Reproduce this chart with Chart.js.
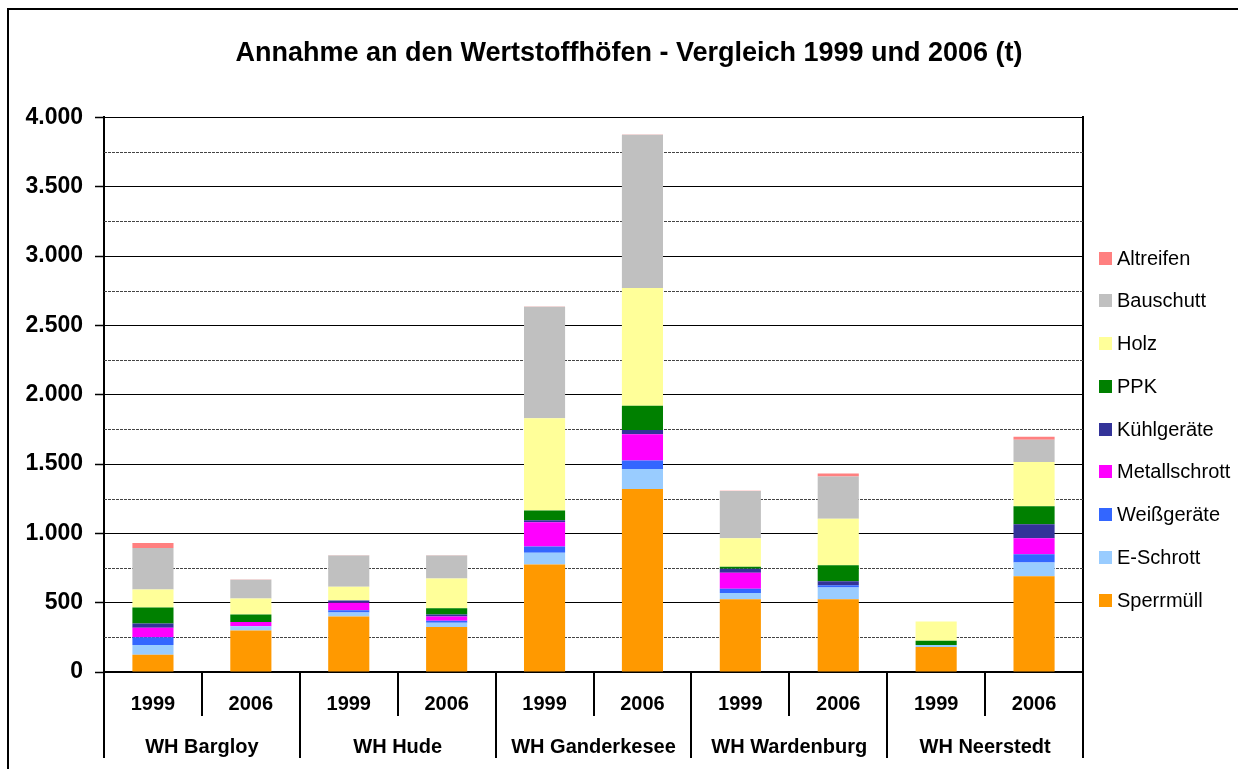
<!DOCTYPE html>
<html>
<head>
<meta charset="utf-8">
<script src="https://cdn.jsdelivr.net/npm/chart.js@4"></script>
<style>
  html, body { margin: 0; padding: 0; background: #fff; }
</style>
</head>
<body>
<canvas id="chart" width="1238" height="769"></canvas>
<script>
// Categories: one bar per year, grouped by Wertstoffhof
const years = ["1999", "2006", "1999", "2006", "1999", "2006", "1999", "2006", "1999", "2006"];
const sites = ["WH Bargloy", "WH Hude", "WH Ganderkesee", "WH Wardenburg", "WH Neerstedt"];

// Tonnages per material
const sperrmuell    = [125, 300, 400, 325, 775, 1320, 525, 525, 180, 690];
const eSchrott      = [70, 30, 30, 30, 85, 145, 45, 85, 15, 100];
const weissgeraete  = [55, 0, 15, 15, 45, 60, 30, 15, 0, 60];
const metallschrott = [70, 30, 55, 30, 175, 190, 115, 0, 0, 115];
const kuehlgeraete  = [30, 0, 15, 15, 15, 30, 30, 30, 0, 100];
const ppk           = [115, 55, 0, 45, 70, 175, 15, 115, 30, 130];
const holz          = [130, 115, 100, 215, 665, 850, 205, 335, 140, 320];
const bauschutt     = [300, 135, 225, 165, 805, 1105, 340, 305, 0, 160];
const altreifen     = [35, 2, 2, 2, 2, 2, 2, 22, 0, 22];

const FONT = '"Liberation Sans", Arial, sans-serif';

function deNumber(v) {
    return String(v).replace(/\B(?=(\d{3})+(?!\d))/g, ".");
}

// Frame around the whole chart object (clipped at right and bottom like the original)
const frame = {
    id: "frame",
    beforeDraw(chart) {
        const ctx = chart.ctx;
        ctx.save();
        ctx.fillStyle = "#fff";
        ctx.fillRect(0, 0, chart.width, chart.height);
        ctx.restore();
    },
    afterDraw(chart) {
        const ctx = chart.ctx;
        ctx.save();
        ctx.strokeStyle = "#000";
        ctx.lineWidth = 2;
        ctx.beginPath();
        ctx.moveTo(8, chart.height);
        ctx.lineTo(8, 9);
        ctx.lineTo(chart.width, 9);
        ctx.stroke();
        ctx.restore();
    }
};

// Dashed lines between the major gridlines
const minorGrid = {
    id: "minorGrid",
    beforeDatasetsDraw(chart) {
        const ctx = chart.ctx;
        const y = chart.scales.y;
        const area = chart.chartArea;
        ctx.save();
        ctx.strokeStyle = "#444";
        ctx.lineWidth = 1;
        ctx.setLineDash([3, 1]);
        for (let v = 250; v < 4000; v += 500) {
            const py = Math.round(y.getPixelForValue(v)) + 0.5;
            ctx.beginPath();
            ctx.moveTo(area.left, py);
            ctx.lineTo(area.right, py);
            ctx.stroke();
        }
        ctx.restore();
    }
};

// Legend on the right, top item = top of the stack
const sideLegend = {
    id: "sideLegend",
    afterDraw(chart) {
        const ctx = chart.ctx;
        const items = chart.data.datasets.slice().reverse();
        ctx.save();
        ctx.beginPath();
        ctx.rect(0, 0, 1231, chart.height);
        ctx.clip();
        ctx.font = "20px " + FONT;
        ctx.textBaseline = "middle";
        items.forEach((d, i) => {
            const cy = 258 + i * 42.75;
            ctx.fillStyle = d.backgroundColor;
            ctx.fillRect(1099, Math.round(cy - 6.5), 13, 13);
            ctx.fillStyle = "#000";
            ctx.fillText(d.label, 1117, cy + 1);
        });
        ctx.restore();
    }
};

function series(label, data, color) {
    return {
        label: label,
        data: data,
        backgroundColor: color,
        borderWidth: 0,
        barPercentage: 0.42,
        categoryPercentage: 1.0
    };
}

const ctx = document.getElementById("chart").getContext("2d");
new Chart(ctx, {
    type: "bar",
    data: {
        labels: years,
        datasets: [
            series("Sperrmüll", sperrmuell, "#FF9900"),
            series("E-Schrott", eSchrott, "#99CCFF"),
            series("Weißgeräte", weissgeraete, "#3366FF"),
            series("Metallschrott", metallschrott, "#FF00FF"),
            series("Kühlgeräte", kuehlgeraete, "#333399"),
            series("PPK", ppk, "#008000"),
            series("Holz", holz, "#FFFF99"),
            series("Bauschutt", bauschutt, "#C0C0C0"),
            series("Altreifen", altreifen, "#FF8080")
        ]
    },
    options: {
        responsive: false,
        animation: false,
        layout: { padding: { left: 20, right: 0, top: 0, bottom: 11 } },
        plugins: {
            legend: { display: false },
            tooltip: { enabled: false },
            title: {
                display: true,
                text: "Annahme an den Wertstoffhöfen - Vergleich 1999 und 2006 (t)",
                color: "#000",
                font: { family: FONT, size: 27, weight: "bold" },
                padding: { top: 37, bottom: 48 }
            }
        },
        scales: {
            x: {
                stacked: true,
                offset: true,
                grid: {
                    offset: true,
                    drawOnChartArea: false,
                    drawTicks: true,
                    tickLength: 44,
                    color: "#000",
                    lineWidth: 2
                },
                border: { display: true, color: "#000", width: 2 },
                ticks: {
                    color: "#000",
                    font: { family: FONT, size: 20, weight: "bold" },
                    padding: -24,
                    maxRotation: 0,
                    autoSkip: false
                },
                afterFit(scale) { scale.height = 43; }
            },
            x2: {
                type: "category",
                position: "bottom",
                labels: sites,
                offset: true,
                grid: {
                    offset: true,
                    drawOnChartArea: false,
                    drawTicks: true,
                    tickLength: 43,
                    color: "#000",
                    lineWidth: 2
                },
                border: { display: false },
                ticks: {
                    color: "#000",
                    font: { family: FONT, size: 20, weight: "bold" },
                    padding: -23,
                    maxRotation: 0,
                    autoSkip: false
                },
                afterFit(scale) { scale.height = 43; }
            },
            y: {
                stacked: true,
                min: 0,
                max: 4000,
                ticks: {
                    stepSize: 500,
                    color: "#000",
                    font: { family: FONT, size: 23, weight: "bold" },
                    padding: 12,
                    callback: v => deNumber(v)
                },
                grid: {
                    color: "#000",
                    lineWidth: 1,
                    tickLength: 9,
                    tickColor: "#000",
                    tickWidth: 1.5
                },
                border: { display: true, color: "#000", width: 2 },
                afterFit(scale) { scale.width = 84; }
            },
            y2: {
                type: "linear",
                position: "right",
                ticks: { display: false },
                grid: { display: false },
                border: { display: true, color: "#000", width: 2 },
                afterFit(scale) { scale.width = 155; }
            }
        }
    },
    plugins: [frame, minorGrid, sideLegend]
});
</script>
</body>
</html>
